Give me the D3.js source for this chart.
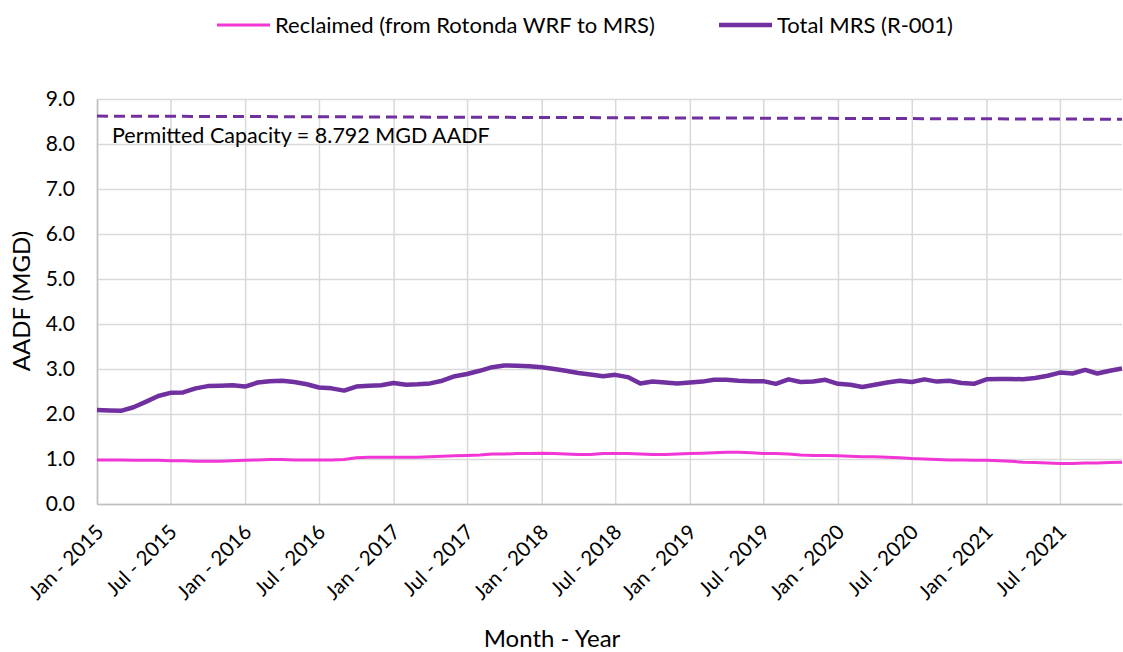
<!DOCTYPE html>
<html>
<head>
<meta charset="utf-8">
<script src="https://cdn.jsdelivr.net/npm/d3@7"></script>
<style>
  body { margin: 0; background: #fff; }
  svg text { font-family: Lato, "Open Sans", sans-serif; fill: #000; }
</style>
</head>
<body>
<div id="chart"></div>
<script>
// monthly values, Jan 2015 .. Dec 2021
var startYear = 2015;
var totalMRS = [
  2.09, 2.08, 2.07, 2.15, 2.27, 2.40, 2.47, 2.48, 2.57, 2.62, 2.63, 2.64,
  2.61, 2.70, 2.73, 2.74, 2.71, 2.66, 2.59, 2.57, 2.52, 2.61, 2.63, 2.64,
  2.69, 2.65, 2.66, 2.68, 2.74, 2.84, 2.89, 2.96, 3.04, 3.08, 3.07, 3.06,
  3.04, 3.00, 2.96, 2.91, 2.88, 2.84, 2.87, 2.82, 2.68, 2.72, 2.70, 2.68,
  2.70, 2.72, 2.76, 2.76, 2.74, 2.73, 2.73, 2.67, 2.77, 2.71, 2.72, 2.76,
  2.67, 2.65, 2.60, 2.65, 2.70, 2.74, 2.71, 2.77, 2.72, 2.74, 2.69, 2.67,
  2.77, 2.78, 2.78, 2.77, 2.80, 2.85, 2.92, 2.90, 2.98, 2.90, 2.96, 3.01
];
var reclaimed = [
  0.98, 0.98, 0.98, 0.97, 0.97, 0.97, 0.96, 0.96, 0.95, 0.95, 0.95, 0.96,
  0.97, 0.98, 0.99, 0.99, 0.98, 0.98, 0.98, 0.98, 0.99, 1.03, 1.04, 1.04,
  1.04, 1.04, 1.04, 1.05, 1.06, 1.07, 1.08, 1.09, 1.11, 1.11, 1.12, 1.12,
  1.13, 1.12, 1.11, 1.10, 1.10, 1.12, 1.12, 1.12, 1.11, 1.10, 1.10, 1.11,
  1.12, 1.13, 1.14, 1.15, 1.15, 1.14, 1.12, 1.12, 1.11, 1.09, 1.08, 1.08,
  1.07, 1.06, 1.05, 1.05, 1.04, 1.03, 1.01, 1.00, 0.99, 0.98, 0.98, 0.97,
  0.97, 0.96, 0.95, 0.93, 0.92, 0.91, 0.90, 0.90, 0.91, 0.91, 0.92, 0.93
];
// permitted capacity line as drawn (start, end)
var capacity = [8.62, 8.55];
var capacityLabel = "Permitted Capacity = 8.792 MGD AADF";
var yTicks = [0, 1, 2, 3, 4, 5, 6, 7, 8, 9];
var xTickLabels = ["Jan - 2015", "Jul - 2015", "Jan - 2016", "Jul - 2016", "Jan - 2017", "Jul - 2017",
  "Jan - 2018", "Jul - 2018", "Jan - 2019", "Jul - 2019", "Jan - 2020", "Jul - 2020",
  "Jan - 2021", "Jul - 2021"];
var seriesNames = ["Reclaimed (from Rotonda WRF to MRS)", "Total MRS (R-001)"];

var colors = { reclaimed: "#f236d6", total: "#7030a0", grid: "#d9d9d9", axis: "#bfbfbf" };

var svg = d3.select("#chart").append("svg")
    .attr("width", 1123)
    .attr("height", 652);

var margin = {top: 99, right: 1, bottom: 148, left: 97},
    width = +svg.attr("width") - margin.left - margin.right,
    height = +svg.attr("height") - margin.top - margin.bottom,
    g = svg.append("g").attr("transform", "translate(" + margin.left + "," + margin.top + ")");

function monthDate(i) { return new Date(startYear, i, 1); }

var x = d3.scaleTime()
    .domain([monthDate(0), monthDate(totalMRS.length - 1)])
    .range([0, width]);

var y = d3.scaleLinear()
    .domain([0, 9])
    .range([height, 0]);

var tickDates = xTickLabels.map(function(d, i) { return monthDate(i * 6); });

// gridlines
g.append("g")
    .attr("class", "grid y")
    .call(d3.axisLeft(y).tickValues(yTicks).tickSize(-width).tickFormat(""))
    .call(function(s) {
      s.select(".domain").remove();
      s.selectAll("line").attr("stroke", colors.grid).attr("stroke-width", 1.5);
    });

g.append("g")
    .attr("class", "grid x")
    .attr("transform", "translate(0," + height + ")")
    .call(d3.axisBottom(x).tickValues(tickDates).tickSize(-height).tickFormat(""))
    .call(function(s) {
      s.select(".domain").remove();
      s.selectAll("line").attr("stroke", colors.grid).attr("stroke-width", 1.5);
    });

// axes
var yAxis = g.append("g")
    .attr("class", "y axis")
    .call(d3.axisLeft(y).tickValues(yTicks).tickSize(0).tickPadding(22).tickFormat(d3.format(".1f")));
yAxis.select(".domain").attr("stroke", colors.axis).attr("stroke-width", 1.5);
yAxis.selectAll("text").style("font-size", "21px");

var xAxis = g.append("g")
    .attr("class", "x axis")
    .attr("transform", "translate(0," + height + ")")
    .call(d3.axisBottom(x).tickValues(tickDates).tickSize(0)
      .tickFormat(function(d, i) { return xTickLabels[i]; }));
xAxis.select(".domain").attr("stroke", colors.axis).attr("stroke-width", 1.5);
xAxis.selectAll("text")
    .style("font-size", "20.5px")
    .attr("text-anchor", "end")
    .attr("dy", null)
    .attr("y", null)
    .attr("transform", "translate(-4,18) rotate(-45)")
    .attr("dominant-baseline", "hanging");

// lines
var line = d3.line()
    .x(function(d, i) { return x(monthDate(i)); })
    .y(function(d) { return y(d); });

g.append("path")
    .datum(reclaimed)
    .attr("fill", "none")
    .attr("stroke", colors.reclaimed)
    .attr("stroke-width", 3)
    .attr("stroke-linejoin", "round")
    .attr("d", line);

g.append("path")
    .datum(totalMRS)
    .attr("fill", "none")
    .attr("stroke", colors.total)
    .attr("stroke-width", 4.5)
    .attr("stroke-linejoin", "round")
    .attr("d", line);

var capLine = d3.line()
    .x(function(d, i) { return i === 0 ? 0 : width; })
    .y(function(d) { return y(d); });

g.append("path")
    .datum(capacity)
    .attr("fill", "none")
    .attr("stroke", colors.total)
    .attr("stroke-width", 3)
    .attr("stroke-dasharray", "11,6")
    .attr("d", capLine);

g.append("text")
    .attr("x", 15)
    .attr("y", y(8.0) - 1)
    .style("font-size", "21.5px")
    .text(capacityLabel);

// axis titles
svg.append("text")
    .attr("x", 552)
    .attr("y", 647)
    .attr("text-anchor", "middle")
    .style("font-size", "24px")
    .text("Month - Year");

svg.append("text")
    .attr("transform", "translate(30,301) rotate(-90)")
    .attr("text-anchor", "middle")
    .style("font-size", "24px")
    .text("AADF (MGD)");

// legend
var legend = svg.append("g").attr("class", "legend");
var legendItems = [
  {name: seriesNames[0], color: colors.reclaimed, w: 3, x: 217},
  {name: seriesNames[1], color: colors.total, w: 4.5, x: 719}
];
legendItems.forEach(function(d) {
  legend.append("line")
      .attr("x1", d.x).attr("x2", d.x + 53)
      .attr("y1", 25).attr("y2", 25)
      .attr("stroke", d.color)
      .attr("stroke-width", d.w);
  legend.append("text")
      .attr("x", d.x + 58)
      .attr("y", 33)
      .style("font-size", "22px")
      .text(d.name);
});
</script>
</body>
</html>
